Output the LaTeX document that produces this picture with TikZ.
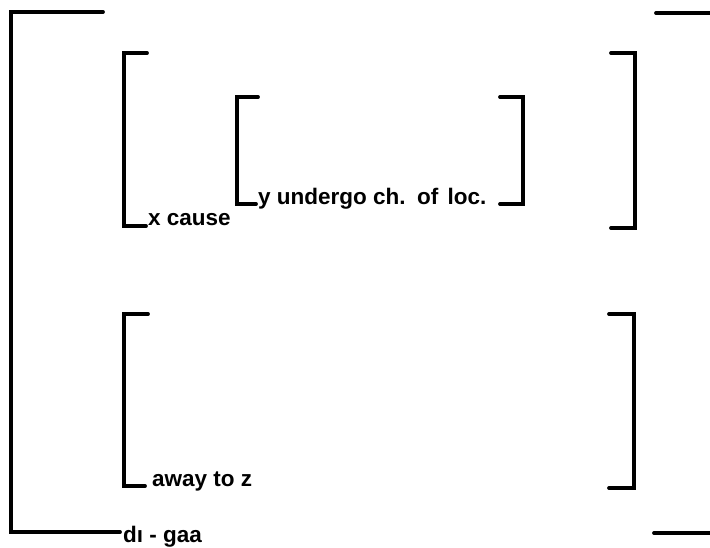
\documentclass[tikz,border=0pt]{standalone}
\usepackage{fontspec}
\setmainfont{Liberation Sans}
\begin{document}
\begin{tikzpicture}[x=1pt,y=-1pt,
  brk/.style={line width=3.8pt,line cap=round,line join=miter},
  lbl/.style={inner sep=0pt,anchor=base west,font=\fontsize{22.5}{25}\selectfont\bfseries}]
\useasboundingbox (0,0) rectangle (710,547);
% outer bracket
\draw[brk] (103,12) -- (11,12) -- (11,532) -- (120,532);
\draw[brk] (656,13) -- (712,13);
\draw[brk] (654,533) -- (712,533);
% bracket A
\draw[brk] (147,53) -- (124,53) -- (124,226) -- (146,226);
\draw[brk] (611,53) -- (635,53) -- (635,228) -- (611,228);
% bracket B
\draw[brk] (258,97) -- (237,97) -- (237,204) -- (256,204);
\draw[brk] (500,97) -- (523,97) -- (523,204) -- (500,204);
% bracket C
\draw[brk] (148,314) -- (124,314) -- (124,486) -- (145,486);
\draw[brk] (609,314) -- (634,314) -- (634,488) -- (609,488);
% labels
\node[lbl] (xc) at (148,225) {x cause};
\node[lbl] (yu) at (258,204) {y undergo ch.\hspace{3pt} of\hspace{3pt} loc.};
\node[lbl] (az) at (152,486) {away to z};
\node[lbl] (dg) at (123,542) {dı - gaa};
\end{tikzpicture}
\end{document}
